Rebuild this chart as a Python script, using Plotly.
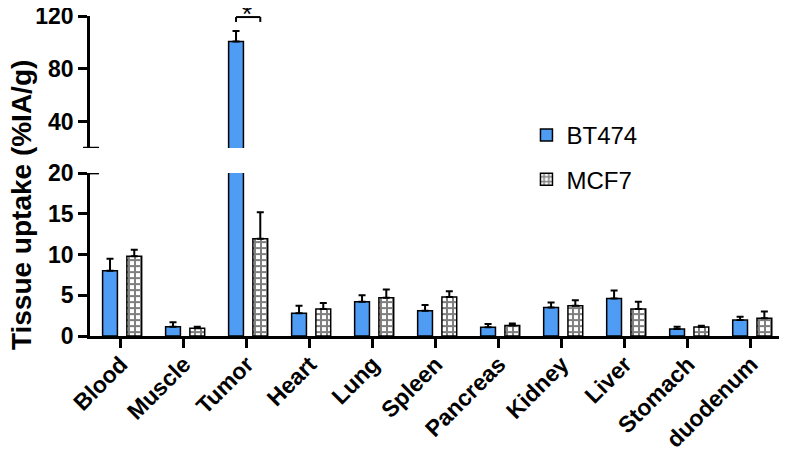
import plotly.graph_objects as go

tissues = ["Blood", "Muscle", "Tumor", "Heart", "Lung", "Spleen",
           "Pancreas", "Kidney", "Liver", "Stomach", "duodenum"]
bt474 = [8.0, 1.15, 100.6, 2.8, 4.2, 3.1, 1.07, 3.5, 4.6, 0.86, 1.96]
bt474_err = [1.5, 0.55, 8.1, 0.9, 0.8, 0.7, 0.4, 0.6, 1.0, 0.29, 0.41]
mcf7 = [9.8, 0.95, 11.94, 3.3, 4.7, 4.8, 1.3, 3.7, 3.3, 1.1, 2.17]
mcf7_err = [0.8, 0.2, 3.26, 0.75, 1.0, 0.7, 0.25, 0.7, 0.9, 0.17, 0.83]

lower_ticks = [0, 5, 10, 15, 20]
upper_ticks = [40, 80, 120]

FONT = "Arial, Liberation Sans, sans-serif"
BLUE = "#4f9cf5"
BW = 0.235

fig = go.Figure()

def add_series(yaxis, show):
    fig.add_trace(go.Bar(
        x=tissues, y=bt474, name="BT474", yaxis=yaxis, showlegend=show,
        offset=-0.29, width=BW, legendgroup="a",
        marker=dict(color=BLUE, line=dict(color="black", width=1.5)),
        error_y=dict(type="data", array=bt474_err, arrayminus=[0]*len(bt474),
                     symmetric=False, color="black", thickness=2, width=3.5),
    ))
    fig.add_trace(go.Bar(
        x=tissues, y=mcf7, name="MCF7", yaxis=yaxis, showlegend=show,
        offset=0.095, width=BW, legendgroup="b",
        marker=dict(color="white", line=dict(color="black", width=1.5),
                    pattern=dict(shape="+", fgcolor="black", bgcolor="white",
                                 size=6, solidity=0.55)),
        error_y=dict(type="data", array=mcf7_err, arrayminus=[0]*len(mcf7),
                     symmetric=False, color="black", thickness=2, width=3.5),
    ))

add_series("y", True)
add_series("y2", False)

def axis_common(size):
    return dict(showline=True, linecolor="black", linewidth=2.5,
                ticks="outside", ticklen=9, tickwidth=2.5, tickcolor="black",
                showgrid=False, zeroline=False, automargin=False,
                ticklabeloverflow="allow",
                tickfont=dict(family=FONT, size=size, color="black", weight="bold"))

# page body has an 8px margin, so the figure is 8px smaller to fit the window
fig.update_layout(
    width=779, height=444,
    margin=dict(l=82, r=2, t=8, b=116),
    plot_bgcolor="white", paper_bgcolor="white",
    xaxis=dict(type="category", range=[-0.49, 10.54], anchor="y",
               tickangle=-45, ticklabelstandoff=-6, **axis_common(23)),
    yaxis=dict(domain=[0, 0.509], range=[0, 20], tickvals=lower_ticks, **axis_common(23)),
    yaxis2=dict(domain=[0.5875, 1], range=[20, 120], tickvals=upper_ticks,
                anchor="x", **axis_common(23)),
    legend=dict(x=0.628, y=0.697, xanchor="left", yanchor="top",
                font=dict(family=FONT, size=24, color="black"),
                tracegroupgap=10, bgcolor="rgba(0,0,0,0)"),
    showlegend=True,
)

# axis break marks
for yref in ["y", "y2"]:
    fig.add_shape(type="line", xref="paper", yref=yref, x0=-0.010, x1=0.013,
                  y0=20, y1=20, line=dict(color="black", width=2.5))

# significance bracket on Tumor
ti = tissues.index("Tumor")
xl, xr = ti - 0.29 + BW / 2, ti + 0.095 + BW / 2
for (a, b, c, d) in [(xl, 115.5, xl, 119.2), (xl, 119.2, xr, 119.2), (xr, 119.2, xr, 115.5)]:
    fig.add_shape(type="line", xref="x", yref="y2", x0=a, y0=b, x1=c, y1=d,
                  line=dict(color="black", width=2))
fig.add_annotation(x=ti, xref="x", y=1.005, yref="paper", text="*", showarrow=False,
                   yanchor="middle", font=dict(family=FONT, size=26, color="black"))

fig.add_annotation(text="Tissue uptake (%IA/g)", xref="paper", yref="paper",
                   x=-0.0993, y=0.409, xanchor="center", yanchor="middle",
                   textangle=-90, showarrow=False,
                   font=dict(family=FONT, size=28, color="black", weight="bold"))

fig.write_html("out.html")
